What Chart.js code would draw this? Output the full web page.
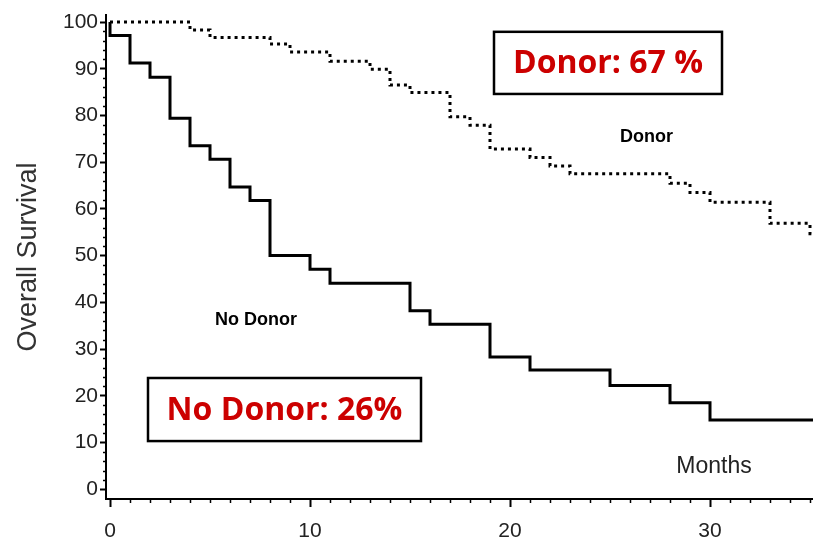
<!DOCTYPE html>
<html>
<head>
<meta charset="utf-8">
<script src="https://cdn.jsdelivr.net/npm/chart.js@4/dist/chart.umd.min.js"></script>
<style>
  html, body { margin: 0; padding: 0; background: #fff; }
  #wrap { width: 813px; height: 542px; }
</style>
</head>
<body>
<div id="wrap"><canvas id="km" width="813" height="542"></canvas></div>
<script>
// Kaplan-Meier overall survival, by donor availability
const noDonorMonths   = [0, 0, 1, 2, 3, 4, 5, 6, 7, 8, 10, 11, 15, 16, 19, 21, 25, 28, 30, 35.15];
const noDonorSurvival = [100, 97.1, 91.2, 88.2, 79.4, 73.5, 70.6, 64.7, 61.8, 50.0, 47.1, 44.1, 38.2, 35.3, 28.3, 25.5, 22.2, 18.5, 14.8, 14.8];

const donorMonths   = [0, 4, 5, 8, 9, 11, 13, 14, 15, 17, 18, 19, 21, 22, 23, 28, 29, 30, 33, 35, 35.15];
const donorSurvival = [100, 98.3, 96.7, 95.3, 93.6, 91.6, 89.9, 86.5, 84.9, 79.7, 77.9, 72.8, 71.0, 69.2, 67.5, 65.5, 63.5, 61.4, 56.9, 54.7, 54.7];

const xTickLabels = [0, 10, 20, 30];
const yTickLabels = [0, 10, 20, 30, 40, 50, 60, 70, 80, 90, 100];
const xMinorTicks = Array.from({length: 36}, (_, i) => i);
const yMinorTicks = Array.from({length: 51}, (_, i) => i * 2);

const toPoints = (xs, ys) => xs.map((v, i) => ({x: v, y: ys[i]}));

// Annotation texts (positions in data units)
const boxes = [
  {text: 'Donor: 67 %',    x0: 19.2, x1: 30.6,  y0: 97.9, y1: 84.6},
  {text: 'No Donor: 26%',  x0: 1.9,  x1: 15.55, y0: 23.8, y1: 10.3}
];
const curveLabels = [
  {text: 'Donor',    x: 25.5, y: 75.4},
  {text: 'No Donor', x: 5.25, y: 36.2}
];

const decorations = {
  id: 'decorations',
  afterDraw(chart) {
    const {ctx, chartArea: area, scales: {x, y}} = chart;
    ctx.save();
    // minor ticks
    ctx.strokeStyle = '#000';
    ctx.lineWidth = 1.5;
    xMinorTicks.forEach(m => {
      if (m % 10 === 0) return;
      const px = Math.round(x.getPixelForValue(m)) + 0.5;
      ctx.beginPath(); ctx.moveTo(px, area.bottom); ctx.lineTo(px, area.bottom + 4); ctx.stroke();
    });
    yMinorTicks.forEach(m => {
      if (m % 10 === 0) return;
      const py = Math.round(y.getPixelForValue(m)) + 0.5;
      ctx.beginPath(); ctx.moveTo(area.left - 3, py); ctx.lineTo(area.left, py); ctx.stroke();
    });

    // summary boxes
    boxes.forEach(b => {
      const l = x.getPixelForValue(b.x0), r = x.getPixelForValue(b.x1);
      const t = y.getPixelForValue(b.y0), btm = y.getPixelForValue(b.y1);
      ctx.lineWidth = 2.5;
      ctx.strokeStyle = '#000';
      ctx.strokeRect(l, t, r - l, btm - t);
      ctx.fillStyle = '#cc0000';
      ctx.font = 'bold 32px "Open Sans", sans-serif';
      ctx.textAlign = 'center';
      ctx.textBaseline = 'middle';
      ctx.fillText(b.text, (l + r) / 2, (t + btm) / 2 + 1);
    });

    // curve labels
    ctx.fillStyle = '#000';
    ctx.font = 'bold 18px "Liberation Sans", Arial, sans-serif';
    ctx.textAlign = 'left';
    ctx.textBaseline = 'middle';
    curveLabels.forEach(c => ctx.fillText(c.text, x.getPixelForValue(c.x), y.getPixelForValue(c.y)));

    // axis titles
    ctx.fillStyle = '#222';
    ctx.font = '23px "Liberation Sans", Arial, sans-serif';
    ctx.textAlign = 'center';
    ctx.fillText('Months', x.getPixelForValue(30.2), y.getPixelForValue(4.9));

    ctx.fillStyle = '#333';
    ctx.font = '27px "Liberation Sans", Arial, sans-serif';
    ctx.translate(29, (area.top + area.bottom) / 2);
    ctx.rotate(-Math.PI / 2);
    ctx.fillText('Overall Survival', 0, 0);
    ctx.restore();
  }
};

new Chart(document.getElementById('km'), {
  type: 'line',
  data: {
    datasets: [
      {
        label: 'Donor',
        data: toPoints(donorMonths, donorSurvival),
        stepped: true,
        borderColor: '#000',
        borderWidth: 3,
        borderDash: [3, 4],
        borderCapStyle: 'butt',
        pointRadius: 0,
        fill: false
      },
      {
        label: 'No Donor',
        data: toPoints(noDonorMonths, noDonorSurvival),
        stepped: true,
        borderColor: '#000',
        borderWidth: 3,
        pointRadius: 0,
        fill: false
      }
    ]
  },
  options: {
    responsive: false,
    animation: false,
    layout: {padding: {top: 15, right: 0, left: 0, bottom: 0}},
    plugins: {legend: {display: false}, tooltip: {enabled: false}},
    scales: {
      x: {
        type: 'linear',
        min: -0.2,
        max: 35.15,
        afterFit(scale) { scale.height = 43; },
        afterBuildTicks(scale) { scale.ticks = xTickLabels.map(v => ({value: v})); },
        grid: {drawOnChartArea: false, drawTicks: true, tickLength: 8, tickWidth: 2, tickColor: '#000'},
        border: {display: true, color: '#000', width: 2},
        ticks: {color: '#222', font: {family: '"Liberation Sans", Arial, sans-serif', size: 21}, padding: 12, maxRotation: 0}
      },
      y: {
        type: 'linear',
        min: -2.1,
        max: 101.5,
        afterFit(scale) { scale.width = 106; },
        afterBuildTicks(scale) { scale.ticks = yTickLabels.map(v => ({value: v})); },
        grid: {drawOnChartArea: false, drawTicks: true, tickLength: 6, tickWidth: 2, tickColor: '#000'},
        border: {display: true, color: '#000', width: 2},
        ticks: {color: '#222', font: {family: '"Liberation Sans", Arial, sans-serif', size: 21}, padding: 2}
      }
    }
  },
  plugins: [decorations]
});
</script>
</body>
</html>
